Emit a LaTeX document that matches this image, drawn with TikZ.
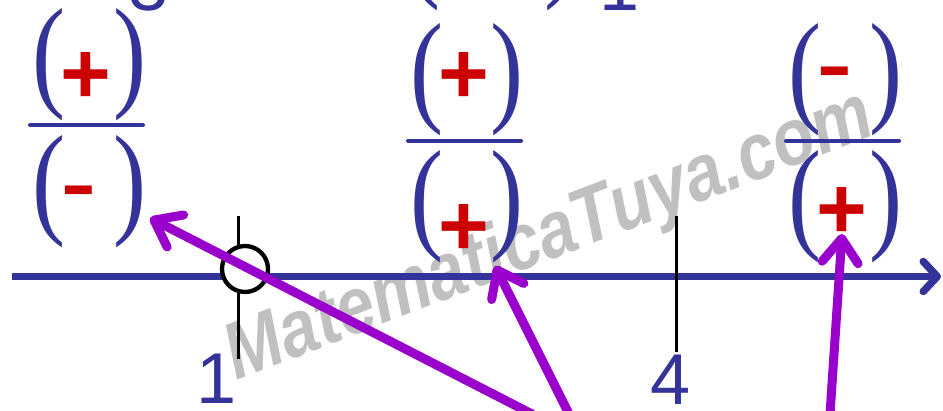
\documentclass[tikz,border=0pt]{standalone}
\usepackage{fontspec}
\setmainfont{Liberation Serif}
\newfontfamily\arialf{Liberation Sans}
\newfontfamily\parenf[FakeStretch=0.8]{Liberation Serif}
\newfontfamily\wmf[FakeStretch=0.85]{Liberation Sans}
\usetikzlibrary{arrows.meta}
\definecolor{axisblue}{RGB}{51,51,153}
\definecolor{signred}{RGB}{204,0,0}
\definecolor{arrowpurple}{RGB}{153,0,204}
\definecolor{wmgray}{RGB}{192,192,192}
\tikzset{
  paren/.style={inner sep=0pt, text=axisblue, font=\parenf\fontsize{124}{124}\selectfont},
  plussign/.style={inner sep=0pt, text=signred, font=\arialf\bfseries\fontsize{87}{87}\selectfont, anchor=base},
  minussign/.style={inner sep=0pt, text=signred, font=\arialf\fontsize{110}{110}\selectfont, anchor=base},
  numlabel/.style={inner sep=0pt, text=axisblue, font=\arialf\fontsize{72}{72}\selectfont, anchor=base},
  fracbar/.style={draw=axisblue, line width=4pt, line cap=round},
  tickmark/.style={draw=black, line width=3pt},
  pointer/.style={draw=arrowpurple, line width=9pt, line cap=round, -{Straight Barb[length=24pt,width=36pt,round]}},
  axisline/.style={draw=axisblue, line width=7.5pt, -{Straight Barb[length=14pt,width=30pt,round]}},
}
\begin{document}
\begin{tikzpicture}[x=1pt,y=-1pt]
\useasboundingbox (0,0) rectangle (943,411);
\clip (0,0) rectangle (943,411);
% watermark
\node[rotate=21, text=wmgray, font=\wmf\bfseries\itshape\fontsize{80}{80}\selectfont, inner sep=0pt] (wm) at (550,238) {MatematicaTuya.com};
% top cut-off pieces
\node[numlabel] (topthree) at (149,11) {3};
\node[paren, anchor=south] (toplp) at (424.5,11) {(};
\node[paren, anchor=south] (toprp) at (561.5,11) {)};
\node[numlabel] (topone) at (619.5,11) {1};
% left fraction
\node[paren, anchor=north] (fAnl) at (49.5,8) {(};
\node[paren, anchor=north] (fAnr) at (130.5,8) {)};
\node[plussign] (fAnum) at (85.5,103.4) {+};
\coordinate (fAbarL) at (30,125);
\coordinate (fAbarR) at (143,125);
\draw[fracbar] (fAbarL) -- (fAbarR);
\node[paren, anchor=north] (fAdl) at (49.5,135) {(};
\node[paren, anchor=north] (fAdr) at (130.5,135) {)};
\node[minussign] (fAden) at (78.5,220) {-};
% middle fraction
\node[paren, anchor=north] (fBnl) at (427.5,23) {(};
\node[paren, anchor=north] (fBnr) at (507.5,23) {)};
\node[plussign] (fBnum) at (463.5,103.4) {+};
\coordinate (fBbarL) at (408,140.7);
\coordinate (fBbarR) at (521,140.7);
\draw[fracbar] (fBbarL) -- (fBbarR);
\node[paren, anchor=north] (fBdl) at (427.5,150) {(};
\node[paren, anchor=north] (fBdr) at (507.5,150) {)};
\node[plussign] (fBden) at (463.5,255.4) {+};
% right fraction
\node[paren, anchor=north] (fCnl) at (805.5,23) {(};
\node[paren, anchor=north] (fCnr) at (886.5,23) {)};
\node[minussign] (fCnum) at (834.5,101) {-};
\coordinate (fCbarL) at (786,140.7);
\coordinate (fCbarR) at (899,140.7);
\draw[fracbar] (fCbarL) -- (fCbarR);
\node[paren, anchor=north] (fCdl) at (805.5,150) {(};
\node[paren, anchor=north] (fCdr) at (886.5,150) {)};
\node[plussign] (fCden) at (841.5,238.4) {+};
% number line
\coordinate (axisL) at (12,276.5);
\coordinate (axisR) at (941,276.5);
\draw[axisline] (axisL) -- (axisR);
% ticks
\coordinate (tOneTop) at (238,216);
\coordinate (tOneBot) at (238,359);
\draw[tickmark] (tOneTop) -- (tOneBot);
\coordinate (tFourTop) at (676,216);
\coordinate (tFourBot) at (676,352);
\draw[tickmark] (tFourTop) -- (tFourBot);
\node[circle, draw=black, line width=4.3pt, fill=white, minimum size=46pt, inner sep=0pt] (open1) at (245,269) {};
% labels
\node[numlabel] (lblone) at (217,404) {1};
\node[numlabel] (lblfour) at (671,404.5) {4};
% pointers
\coordinate (tipA) at (150,218);
\coordinate (tailA) at (532,414);
\draw[pointer] (tailA) -- (tipA);
\coordinate (tipB) at (495,266);
\coordinate (tailB) at (569,414);
\draw[pointer] (tailB) -- (tipB);
\coordinate (tipC) at (842,234);
\coordinate (tailC) at (830,414);
\draw[pointer] (tailC) -- (tipC);
\end{tikzpicture}
\end{document}
